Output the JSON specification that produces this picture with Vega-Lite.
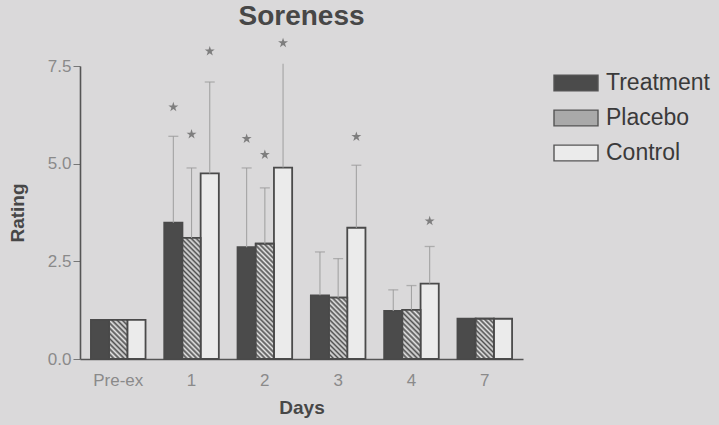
{
  "$schema": "https://vega.github.io/schema/vega-lite/v6.json",
  "width": 443,
  "height": 293,
  "autosize": {"type": "none"},
  "padding": {"left": 80, "top": 66, "right": 196, "bottom": 66},
  "background": "#dad9da",
  "config": {
    "view": {"stroke": null},
    "font": "Liberation Sans",
    "axis": {"grid": false, "domainColor": "#555555", "domainWidth": 1.6, "labelColor": "#8a8a8a", "labelFont": "Liberation Sans", "titleFont": "Liberation Sans", "titleColor": "#474747", "titleFontWeight": "bold", "titleFontSize": 19}
  },
  "title": {"text": "Soreness", "fontSize": 28, "fontWeight": "bold", "color": "#474747", "font": "Liberation Sans", "anchor": "middle", "offset": 7},
  "data": {"values": [
    {"day": "Pre-ex", "group": "Treatment", "mean": 1.0, "err": null, "sig": null},
    {"day": "Pre-ex", "group": "Placebo", "mean": 1.0, "err": null, "sig": null},
    {"day": "Pre-ex", "group": "Control", "mean": 1.0, "err": null, "sig": null},
    {"day": "1", "group": "Treatment", "mean": 3.49, "err": 5.70, "sig": 6.45},
    {"day": "1", "group": "Placebo", "mean": 3.10, "err": 4.89, "sig": 5.75},
    {"day": "1", "group": "Control", "mean": 4.75, "err": 7.09, "sig": 7.88},
    {"day": "2", "group": "Treatment", "mean": 2.86, "err": 4.89, "sig": 5.64},
    {"day": "2", "group": "Placebo", "mean": 2.95, "err": 4.38, "sig": 5.23},
    {"day": "2", "group": "Control", "mean": 4.90, "err": 7.56, "sig": 8.09},
    {"day": "3", "group": "Treatment", "mean": 1.63, "err": 2.74, "sig": null},
    {"day": "3", "group": "Placebo", "mean": 1.57, "err": 2.57, "sig": null},
    {"day": "3", "group": "Control", "mean": 3.36, "err": 4.96, "sig": 5.69},
    {"day": "4", "group": "Treatment", "mean": 1.23, "err": 1.77, "sig": null},
    {"day": "4", "group": "Placebo", "mean": 1.26, "err": 1.88, "sig": null},
    {"day": "4", "group": "Control", "mean": 1.93, "err": 2.88, "sig": 3.53},
    {"day": "7", "group": "Treatment", "mean": 1.03, "err": null, "sig": null},
    {"day": "7", "group": "Placebo", "mean": 1.03, "err": null, "sig": null},
    {"day": "7", "group": "Control", "mean": 1.03, "err": null, "sig": null}
  ]},
  "encoding": {
    "x": {"field": "day", "type": "nominal", "sort": ["Pre-ex", "1", "2", "3", "4", "7"],
      "scale": {"paddingInner": 0.255, "paddingOuter": 0.149},
      "axis": {"title": "Days", "labelAngle": 0, "ticks": false, "labelFontSize": 17, "labelPadding": 13, "titlePadding": 10}},
    "xOffset": {"field": "group", "type": "nominal", "sort": ["Treatment", "Placebo", "Control"], "scale": {"paddingInner": 0, "paddingOuter": 0}}
  },
  "layer": [
    {
      "mark": {"type": "bar", "stroke": "#4a4a4a", "strokeWidth": 1.8},
      "encoding": {
        "y": {"field": "mean", "type": "quantitative", "scale": {"domain": [0, 7.5], "nice": false},
          "axis": {"title": "Rating", "values": [0, 2.5, 5, 7.5], "format": ".1f", "labelFontSize": 17, "tickSize": 7, "tickColor": "#777777", "labelPadding": 2, "titlePadding": 20}},
        "fill": {"field": "group", "type": "nominal", "sort": ["Treatment", "Placebo", "Control"],
          "scale": {"domain": ["Treatment", "Placebo", "Control"], "range": ["#4b4b4b", "#a9a9a9", "#ebebeb"]},
          "legend": {"title": null, "orient": "none", "legendX": 473, "legendY": -6,
            "symbolType": "M-1,-0.36L1,-0.36L1,0.36L-1,0.36Z", "symbolSize": 1936, "symbolStrokeColor": "#555555", "symbolStrokeWidth": 1.4,
            "labelFontSize": 23, "labelColor": "#3a3a3a", "labelOffset": 7, "rowPadding": 0, "labelFont": "Liberation Sans"}}
      }
    },
    {
      "transform": [{"filter": "datum.group === 'Placebo' && datum.day === 'Pre-ex'"}],
      "mark": {"type": "bar", "stroke": "#4a4a4a", "strokeWidth": 1.8,
        "fill": {"gradient": "linear", "x1": 0, "y1": 1, "x2": 0.5607, "y2": -0.2044, "stops": [{"offset":0,"color":"#505050"},{"offset":0.0455,"color":"#e6e6e6"},{"offset":0.0909,"color":"#505050"},{"offset":0.1364,"color":"#e6e6e6"},{"offset":0.1818,"color":"#505050"},{"offset":0.2273,"color":"#e6e6e6"},{"offset":0.2727,"color":"#505050"},{"offset":0.3182,"color":"#e6e6e6"},{"offset":0.3636,"color":"#505050"},{"offset":0.4091,"color":"#e6e6e6"},{"offset":0.4545,"color":"#505050"},{"offset":0.5,"color":"#e6e6e6"},{"offset":0.5455,"color":"#505050"},{"offset":0.5909,"color":"#e6e6e6"},{"offset":0.6364,"color":"#505050"},{"offset":0.6818,"color":"#e6e6e6"},{"offset":0.7273,"color":"#505050"},{"offset":0.7727,"color":"#e6e6e6"},{"offset":0.8182,"color":"#505050"},{"offset":0.8636,"color":"#e6e6e6"},{"offset":0.9091,"color":"#505050"},{"offset":0.9545,"color":"#e6e6e6"},{"offset":1,"color":"#505050"}]}},
      "encoding": {"y": {"field": "mean", "type": "quantitative"}}
    },
    {
      "transform": [{"filter": "datum.group === 'Placebo' && datum.day === '1'"}],
      "mark": {"type": "bar", "stroke": "#4a4a4a", "strokeWidth": 1.8,
        "fill": {"gradient": "linear", "x1": 0, "y1": 1, "x2": 0.16907, "y2": -0.125, "stops": [{"offset":0,"color":"#505050"},{"offset":0.0179,"color":"#e6e6e6"},{"offset":0.0357,"color":"#505050"},{"offset":0.0536,"color":"#e6e6e6"},{"offset":0.0714,"color":"#505050"},{"offset":0.0893,"color":"#e6e6e6"},{"offset":0.1071,"color":"#505050"},{"offset":0.125,"color":"#e6e6e6"},{"offset":0.1429,"color":"#505050"},{"offset":0.1607,"color":"#e6e6e6"},{"offset":0.1786,"color":"#505050"},{"offset":0.1964,"color":"#e6e6e6"},{"offset":0.2143,"color":"#505050"},{"offset":0.2321,"color":"#e6e6e6"},{"offset":0.25,"color":"#505050"},{"offset":0.2679,"color":"#e6e6e6"},{"offset":0.2857,"color":"#505050"},{"offset":0.3036,"color":"#e6e6e6"},{"offset":0.3214,"color":"#505050"},{"offset":0.3393,"color":"#e6e6e6"},{"offset":0.3571,"color":"#505050"},{"offset":0.375,"color":"#e6e6e6"},{"offset":0.3929,"color":"#505050"},{"offset":0.4107,"color":"#e6e6e6"},{"offset":0.4286,"color":"#505050"},{"offset":0.4464,"color":"#e6e6e6"},{"offset":0.4643,"color":"#505050"},{"offset":0.4821,"color":"#e6e6e6"},{"offset":0.5,"color":"#505050"},{"offset":0.5179,"color":"#e6e6e6"},{"offset":0.5357,"color":"#505050"},{"offset":0.5536,"color":"#e6e6e6"},{"offset":0.5714,"color":"#505050"},{"offset":0.5893,"color":"#e6e6e6"},{"offset":0.6071,"color":"#505050"},{"offset":0.625,"color":"#e6e6e6"},{"offset":0.6429,"color":"#505050"},{"offset":0.6607,"color":"#e6e6e6"},{"offset":0.6786,"color":"#505050"},{"offset":0.6964,"color":"#e6e6e6"},{"offset":0.7143,"color":"#505050"},{"offset":0.7321,"color":"#e6e6e6"},{"offset":0.75,"color":"#505050"},{"offset":0.7679,"color":"#e6e6e6"},{"offset":0.7857,"color":"#505050"},{"offset":0.8036,"color":"#e6e6e6"},{"offset":0.8214,"color":"#505050"},{"offset":0.8393,"color":"#e6e6e6"},{"offset":0.8571,"color":"#505050"},{"offset":0.875,"color":"#e6e6e6"},{"offset":0.8929,"color":"#505050"},{"offset":0.9107,"color":"#e6e6e6"},{"offset":0.9286,"color":"#505050"},{"offset":0.9464,"color":"#e6e6e6"},{"offset":0.9643,"color":"#505050"},{"offset":0.9821,"color":"#e6e6e6"},{"offset":1,"color":"#505050"}]}},
      "encoding": {"y": {"field": "mean", "type": "quantitative"}}
    },
    {
      "transform": [{"filter": "datum.group === 'Placebo' && datum.day === '2'"}],
      "mark": {"type": "bar", "stroke": "#4a4a4a", "strokeWidth": 1.8,
        "fill": {"gradient": "linear", "x1": 0, "y1": 1, "x2": 0.17839, "y2": -0.1296, "stops": [{"offset":0,"color":"#505050"},{"offset":0.0185,"color":"#e6e6e6"},{"offset":0.037,"color":"#505050"},{"offset":0.0556,"color":"#e6e6e6"},{"offset":0.0741,"color":"#505050"},{"offset":0.0926,"color":"#e6e6e6"},{"offset":0.1111,"color":"#505050"},{"offset":0.1296,"color":"#e6e6e6"},{"offset":0.1481,"color":"#505050"},{"offset":0.1667,"color":"#e6e6e6"},{"offset":0.1852,"color":"#505050"},{"offset":0.2037,"color":"#e6e6e6"},{"offset":0.2222,"color":"#505050"},{"offset":0.2407,"color":"#e6e6e6"},{"offset":0.2593,"color":"#505050"},{"offset":0.2778,"color":"#e6e6e6"},{"offset":0.2963,"color":"#505050"},{"offset":0.3148,"color":"#e6e6e6"},{"offset":0.3333,"color":"#505050"},{"offset":0.3519,"color":"#e6e6e6"},{"offset":0.3704,"color":"#505050"},{"offset":0.3889,"color":"#e6e6e6"},{"offset":0.4074,"color":"#505050"},{"offset":0.4259,"color":"#e6e6e6"},{"offset":0.4444,"color":"#505050"},{"offset":0.463,"color":"#e6e6e6"},{"offset":0.4815,"color":"#505050"},{"offset":0.5,"color":"#e6e6e6"},{"offset":0.5185,"color":"#505050"},{"offset":0.537,"color":"#e6e6e6"},{"offset":0.5556,"color":"#505050"},{"offset":0.5741,"color":"#e6e6e6"},{"offset":0.5926,"color":"#505050"},{"offset":0.6111,"color":"#e6e6e6"},{"offset":0.6296,"color":"#505050"},{"offset":0.6481,"color":"#e6e6e6"},{"offset":0.6667,"color":"#505050"},{"offset":0.6852,"color":"#e6e6e6"},{"offset":0.7037,"color":"#505050"},{"offset":0.7222,"color":"#e6e6e6"},{"offset":0.7407,"color":"#505050"},{"offset":0.7593,"color":"#e6e6e6"},{"offset":0.7778,"color":"#505050"},{"offset":0.7963,"color":"#e6e6e6"},{"offset":0.8148,"color":"#505050"},{"offset":0.8333,"color":"#e6e6e6"},{"offset":0.8519,"color":"#505050"},{"offset":0.8704,"color":"#e6e6e6"},{"offset":0.8889,"color":"#505050"},{"offset":0.9074,"color":"#e6e6e6"},{"offset":0.9259,"color":"#505050"},{"offset":0.9444,"color":"#e6e6e6"},{"offset":0.963,"color":"#505050"},{"offset":0.9815,"color":"#e6e6e6"},{"offset":1,"color":"#505050"}]}},
      "encoding": {"y": {"field": "mean", "type": "quantitative"}}
    },
    {
      "transform": [{"filter": "datum.group === 'Placebo' && datum.day === '3'"}],
      "mark": {"type": "bar", "stroke": "#4a4a4a", "strokeWidth": 1.8,
        "fill": {"gradient": "linear", "x1": 0, "y1": 1, "x2": 0.35356, "y2": -0.1915, "stops": [{"offset":0,"color":"#505050"},{"offset":0.0313,"color":"#e6e6e6"},{"offset":0.0625,"color":"#505050"},{"offset":0.0938,"color":"#e6e6e6"},{"offset":0.125,"color":"#505050"},{"offset":0.1563,"color":"#e6e6e6"},{"offset":0.1875,"color":"#505050"},{"offset":0.2188,"color":"#e6e6e6"},{"offset":0.25,"color":"#505050"},{"offset":0.2813,"color":"#e6e6e6"},{"offset":0.3125,"color":"#505050"},{"offset":0.3438,"color":"#e6e6e6"},{"offset":0.375,"color":"#505050"},{"offset":0.4063,"color":"#e6e6e6"},{"offset":0.4375,"color":"#505050"},{"offset":0.4688,"color":"#e6e6e6"},{"offset":0.5,"color":"#505050"},{"offset":0.5313,"color":"#e6e6e6"},{"offset":0.5625,"color":"#505050"},{"offset":0.5938,"color":"#e6e6e6"},{"offset":0.625,"color":"#505050"},{"offset":0.6563,"color":"#e6e6e6"},{"offset":0.6875,"color":"#505050"},{"offset":0.7188,"color":"#e6e6e6"},{"offset":0.75,"color":"#505050"},{"offset":0.7813,"color":"#e6e6e6"},{"offset":0.8125,"color":"#505050"},{"offset":0.8438,"color":"#e6e6e6"},{"offset":0.875,"color":"#505050"},{"offset":0.9063,"color":"#e6e6e6"},{"offset":0.9375,"color":"#505050"},{"offset":0.9688,"color":"#e6e6e6"},{"offset":1,"color":"#505050"}]}},
      "encoding": {"y": {"field": "mean", "type": "quantitative"}}
    },
    {
      "transform": [{"filter": "datum.group === 'Placebo' && datum.day === '4'"}],
      "mark": {"type": "bar", "stroke": "#4a4a4a", "strokeWidth": 1.8,
        "fill": {"gradient": "linear", "x1": 0, "y1": 1, "x2": 0.44557, "y2": -0.2049, "stops": [{"offset":0,"color":"#505050"},{"offset":0.0385,"color":"#e6e6e6"},{"offset":0.0769,"color":"#505050"},{"offset":0.1154,"color":"#e6e6e6"},{"offset":0.1538,"color":"#505050"},{"offset":0.1923,"color":"#e6e6e6"},{"offset":0.2308,"color":"#505050"},{"offset":0.2692,"color":"#e6e6e6"},{"offset":0.3077,"color":"#505050"},{"offset":0.3462,"color":"#e6e6e6"},{"offset":0.3846,"color":"#505050"},{"offset":0.4231,"color":"#e6e6e6"},{"offset":0.4615,"color":"#505050"},{"offset":0.5,"color":"#e6e6e6"},{"offset":0.5385,"color":"#505050"},{"offset":0.5769,"color":"#e6e6e6"},{"offset":0.6154,"color":"#505050"},{"offset":0.6538,"color":"#e6e6e6"},{"offset":0.6923,"color":"#505050"},{"offset":0.7308,"color":"#e6e6e6"},{"offset":0.7692,"color":"#505050"},{"offset":0.8077,"color":"#e6e6e6"},{"offset":0.8462,"color":"#505050"},{"offset":0.8846,"color":"#e6e6e6"},{"offset":0.9231,"color":"#505050"},{"offset":0.9615,"color":"#e6e6e6"},{"offset":1,"color":"#505050"}]}},
      "encoding": {"y": {"field": "mean", "type": "quantitative"}}
    },
    {
      "transform": [{"filter": "datum.group === 'Placebo' && datum.day === '7'"}],
      "mark": {"type": "bar", "stroke": "#4a4a4a", "strokeWidth": 1.8,
        "fill": {"gradient": "linear", "x1": 0, "y1": 1, "x2": 0.54526, "y2": -0.2056, "stops": [{"offset":0,"color":"#505050"},{"offset":0.0417,"color":"#e6e6e6"},{"offset":0.0833,"color":"#505050"},{"offset":0.125,"color":"#e6e6e6"},{"offset":0.1667,"color":"#505050"},{"offset":0.2083,"color":"#e6e6e6"},{"offset":0.25,"color":"#505050"},{"offset":0.2917,"color":"#e6e6e6"},{"offset":0.3333,"color":"#505050"},{"offset":0.375,"color":"#e6e6e6"},{"offset":0.4167,"color":"#505050"},{"offset":0.4583,"color":"#e6e6e6"},{"offset":0.5,"color":"#505050"},{"offset":0.5417,"color":"#e6e6e6"},{"offset":0.5833,"color":"#505050"},{"offset":0.625,"color":"#e6e6e6"},{"offset":0.6667,"color":"#505050"},{"offset":0.7083,"color":"#e6e6e6"},{"offset":0.75,"color":"#505050"},{"offset":0.7917,"color":"#e6e6e6"},{"offset":0.8333,"color":"#505050"},{"offset":0.875,"color":"#e6e6e6"},{"offset":0.9167,"color":"#505050"},{"offset":0.9583,"color":"#e6e6e6"},{"offset":1,"color":"#505050"}]}},
      "encoding": {"y": {"field": "mean", "type": "quantitative"}}
    },
    {
      "transform": [{"filter": "datum.err != null"}],
      "mark": {"type": "rule", "color": "#a3a3a3", "strokeWidth": 1.1},
      "encoding": {
        "y": {"field": "mean", "type": "quantitative"},
        "y2": {"field": "err"}
      }
    },
    {
      "transform": [{"filter": "datum.err != null && !(datum.day === '2' && datum.group === 'Control')"}],
      "mark": {"type": "tick", "orient": "horizontal", "color": "#9a9a9a", "size": 10, "thickness": 1.3},
      "encoding": {
        "y": {"field": "err", "type": "quantitative"}
      }
    },
    {
      "transform": [{"filter": "datum.sig != null"}],
      "mark": {"type": "point", "shape": "M0,-1L0.2245,-0.309L0.951,-0.309L0.363,0.118L0.588,0.809L0,0.382L-0.588,0.809L-0.363,0.118L-0.951,-0.309L-0.2245,-0.309Z", "filled": true, "color": "#575757", "size": 110},
      "encoding": {
        "y": {"field": "sig", "type": "quantitative"}
      }
    }
  ]
}
